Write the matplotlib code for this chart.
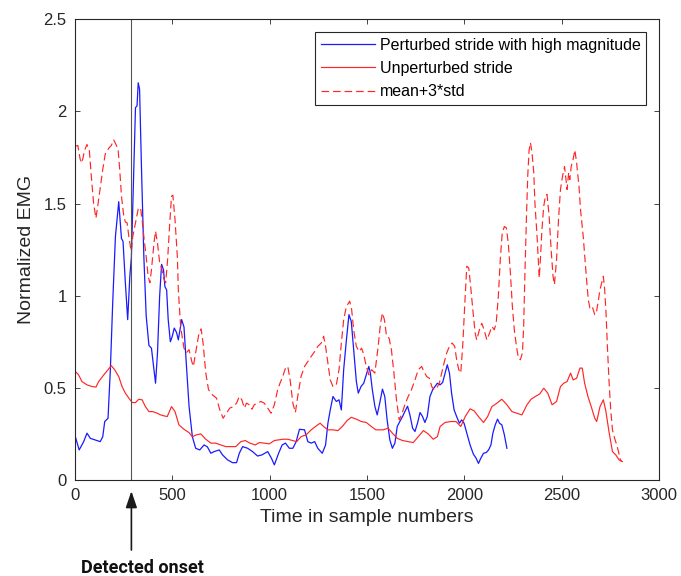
import numpy as np
import matplotlib
matplotlib.use("Agg")
import matplotlib.pyplot as plt

# (sample, normalized EMG)
perturbed = [
    (2, 0.235), (22, 0.163), (45, 0.208), (62, 0.254), (79, 0.226), (105, 0.217), (130, 0.208), (143, 0.235),
    (153, 0.317), (170, 0.335), (182, 0.598), (194, 0.96), (208, 1.32), (225, 1.51), (239, 1.31), (247, 1.295),
    (259, 1.07), (271, 0.87), (282, 1.105), (290, 1.21), (302, 1.68), (311, 2.02), (319, 2.03), (325, 2.155),
    (332, 2.12), (342, 1.685), (354, 1.21), (366, 0.89), (380, 0.73), (393, 0.715), (402, 0.634), (414, 0.525),
    (424, 0.69), (435, 0.996), (445, 1.17), (455, 1.14), (462, 1.05), (471, 1.03), (479, 0.87), (490, 0.75),
    (500, 0.78), (510, 0.824), (522, 0.80), (531, 0.76), (548, 0.87), (560, 0.83), (572, 0.634), (586, 0.40),
    (603, 0.235), (620, 0.172), (641, 0.163), (663, 0.19), (680, 0.18), (698, 0.145), (715, 0.154), (741, 0.163),
    (758, 0.136), (784, 0.109), (809, 0.094), (830, 0.094), (844, 0.145), (861, 0.181), (887, 0.172), (912, 0.154),
    (938, 0.13), (960, 0.136), (990, 0.154), (1009, 0.118), (1024, 0.082), (1046, 0.145), (1064, 0.19), (1081, 0.2),
    (1101, 0.172), (1119, 0.172), (1136, 0.208), (1153, 0.275), (1179, 0.272), (1196, 0.208), (1213, 0.2),
    (1231, 0.208), (1247, 0.172), (1270, 0.145), (1287, 0.19), (1299, 0.308), (1311, 0.38), (1325, 0.453),
    (1342, 0.426), (1356, 0.435), (1368, 0.38), (1380, 0.6), (1394, 0.76), (1407, 0.897), (1419, 0.86),
    (1431, 0.707), (1445, 0.535), (1455, 0.471), (1469, 0.507), (1483, 0.525), (1493, 0.56), (1509, 0.616),
    (1517, 0.58), (1527, 0.49), (1540, 0.40), (1552, 0.353), (1565, 0.417), (1579, 0.493), (1591, 0.453),
    (1603, 0.326), (1617, 0.217), (1630, 0.172), (1643, 0.2), (1655, 0.29), (1668, 0.317), (1682, 0.344),
    (1694, 0.371), (1708, 0.40), (1720, 0.353), (1734, 0.281), (1746, 0.263), (1759, 0.308), (1772, 0.366),
    (1785, 0.344), (1797, 0.312), (1809, 0.344), (1823, 0.453), (1837, 0.49), (1849, 0.507), (1861, 0.525),
    (1875, 0.516), (1888, 0.529), (1901, 0.58), (1912, 0.625), (1923, 0.58), (1934, 0.471), (1947, 0.38),
    (1960, 0.344), (1974, 0.308), (1986, 0.326), (1998, 0.308), (2012, 0.254), (2029, 0.19), (2046, 0.14),
    (2060, 0.118), (2072, 0.09), (2084, 0.118), (2098, 0.145), (2112, 0.149), (2124, 0.163), (2136, 0.19),
    (2146, 0.254), (2158, 0.299), (2170, 0.33), (2180, 0.308), (2192, 0.299), (2205, 0.245), (2218, 0.172),
]

unperturbed = [
    (2, 0.589), (19, 0.57), (36, 0.534), (62, 0.516), (88, 0.507), (108, 0.504), (122, 0.534), (148, 0.57),
    (170, 0.598), (187, 0.62), (204, 0.598), (225, 0.561), (242, 0.507), (259, 0.471), (277, 0.444), (294, 0.42),
    (311, 0.42), (328, 0.438), (345, 0.435), (362, 0.398), (380, 0.371), (400, 0.371), (423, 0.362), (440, 0.353),
    (457, 0.348), (474, 0.344), (496, 0.398), (514, 0.371), (534, 0.299), (560, 0.275), (586, 0.257), (603, 0.235),
    (624, 0.245), (646, 0.25), (672, 0.221), (698, 0.2), (723, 0.2), (749, 0.19), (775, 0.181), (801, 0.181),
    (826, 0.181), (852, 0.208), (875, 0.214), (898, 0.2), (926, 0.19), (947, 0.203), (972, 0.2), (998, 0.196),
    (1024, 0.214), (1041, 0.217), (1067, 0.221), (1093, 0.221), (1119, 0.214), (1139, 0.208), (1161, 0.235),
    (1187, 0.245), (1213, 0.272), (1239, 0.293), (1259, 0.308), (1277, 0.29), (1299, 0.272), (1325, 0.272),
    (1351, 0.268), (1373, 0.29), (1397, 0.322), (1419, 0.34), (1445, 0.33), (1471, 0.317), (1496, 0.312),
    (1522, 0.29), (1545, 0.272), (1582, 0.272), (1608, 0.281), (1630, 0.254), (1655, 0.226), (1682, 0.214),
    (1711, 0.208), (1737, 0.203), (1763, 0.235), (1789, 0.268), (1814, 0.25), (1840, 0.221), (1861, 0.235),
    (1875, 0.29), (1900, 0.312), (1929, 0.317), (1957, 0.317), (1981, 0.29), (2004, 0.344), (2029, 0.386),
    (2050, 0.375), (2072, 0.344), (2098, 0.312), (2119, 0.344), (2141, 0.398), (2167, 0.417), (2192, 0.438),
    (2218, 0.408), (2244, 0.371), (2270, 0.362), (2295, 0.353), (2321, 0.408), (2342, 0.438), (2364, 0.453),
    (2387, 0.467), (2407, 0.498), (2428, 0.471), (2450, 0.408), (2473, 0.426), (2493, 0.507), (2510, 0.525),
    (2527, 0.534), (2545, 0.58), (2558, 0.543), (2576, 0.552), (2593, 0.607), (2605, 0.607), (2617, 0.525),
    (2634, 0.453), (2651, 0.398), (2669, 0.335), (2679, 0.317), (2696, 0.398), (2713, 0.435), (2725, 0.38),
    (2742, 0.263), (2760, 0.154), (2777, 0.136), (2794, 0.109), (2811, 0.1),
]

threshold = [
    (2, 1.81), (15, 1.815), (27, 1.74), (36, 1.72), (50, 1.79), (62, 1.82), (74, 1.79), (84, 1.65), (96, 1.50),
    (108, 1.42), (119, 1.50), (130, 1.585), (143, 1.685), (156, 1.77), (174, 1.80), (187, 1.815), (199, 1.845),
    (211, 1.82), (222, 1.79), (230, 1.685), (239, 1.54), (251, 1.43), (259, 1.40), (268, 1.395), (277, 1.32),
    (289, 1.24), (297, 1.32), (311, 1.395), (325, 1.47), (337, 1.477), (345, 1.413), (354, 1.32), (366, 1.21),
    (376, 1.105), (385, 1.07), (393, 1.14), (406, 1.286), (414, 1.35), (424, 1.286), (435, 1.18), (445, 1.15),
    (455, 1.096), (466, 1.07), (476, 1.196), (486, 1.377), (496, 1.54), (503, 1.545), (514, 1.413), (526, 1.21),
    (531, 1.03), (543, 0.83), (560, 0.715), (572, 0.69), (586, 0.707), (600, 0.643), (608, 0.616), (620, 0.69),
    (637, 0.797), (648, 0.82), (658, 0.743), (672, 0.58), (686, 0.49), (706, 0.462), (727, 0.444), (744, 0.38),
    (761, 0.335), (778, 0.362), (795, 0.39), (813, 0.398), (830, 0.417), (844, 0.453), (857, 0.435), (870, 0.39),
    (881, 0.417), (895, 0.408), (909, 0.384), (921, 0.408), (938, 0.417), (955, 0.426), (972, 0.417), (990, 0.39),
    (1007, 0.362), (1024, 0.408), (1041, 0.49), (1053, 0.525), (1067, 0.561), (1081, 0.607), (1093, 0.616),
    (1105, 0.543), (1119, 0.417), (1132, 0.366), (1144, 0.453), (1161, 0.561), (1179, 0.616), (1196, 0.643),
    (1213, 0.67), (1231, 0.697), (1247, 0.725), (1265, 0.743), (1277, 0.78), (1287, 0.725), (1299, 0.634),
    (1311, 0.543), (1325, 0.507), (1342, 0.516), (1356, 0.598), (1368, 0.743), (1380, 0.87), (1394, 0.942),
    (1411, 0.97), (1421, 0.924), (1431, 0.815), (1445, 0.725), (1459, 0.697), (1472, 0.715), (1483, 0.68),
    (1496, 0.616), (1510, 0.57), (1524, 0.598), (1540, 0.58), (1557, 0.725), (1569, 0.85), (1579, 0.906),
    (1589, 0.87), (1600, 0.78), (1613, 0.77), (1625, 0.707), (1638, 0.58), (1651, 0.435), (1665, 0.326),
    (1677, 0.353), (1694, 0.408), (1711, 0.453), (1728, 0.49), (1746, 0.543), (1763, 0.598), (1780, 0.616),
    (1792, 0.589), (1806, 0.561), (1820, 0.552), (1832, 0.507), (1844, 0.49), (1857, 0.498), (1871, 0.525),
    (1883, 0.58), (1895, 0.634), (1909, 0.69), (1923, 0.725), (1937, 0.743), (1950, 0.725), (1960, 0.652),
    (1971, 0.598), (1981, 0.58), (1991, 0.725), (2002, 0.96), (2012, 1.16), (2022, 1.15), (2032, 1.05),
    (2043, 0.924), (2055, 0.797), (2063, 0.76), (2077, 0.815), (2089, 0.85), (2101, 0.815), (2115, 0.76),
    (2129, 0.797), (2141, 0.833), (2153, 0.815), (2163, 0.85), (2174, 0.996), (2184, 1.196), (2194, 1.34),
    (2205, 1.375), (2215, 1.368), (2225, 1.286), (2236, 1.123), (2246, 0.942), (2256, 0.815), (2267, 0.725),
    (2277, 0.661), (2287, 0.652), (2298, 0.69), (2304, 0.833), (2311, 1.14), (2318, 1.413), (2325, 1.65),
    (2332, 1.79), (2339, 1.83), (2347, 1.775), (2356, 1.667), (2362, 1.50), (2373, 1.32), (2384, 1.096),
    (2390, 1.196), (2398, 1.36), (2407, 1.485), (2416, 1.54), (2424, 1.55), (2435, 1.43), (2445, 1.25),
    (2455, 1.105), (2462, 1.06), (2473, 1.196), (2483, 1.413), (2493, 1.576), (2504, 1.65), (2514, 1.70),
    (2527, 1.576), (2535, 1.667), (2541, 1.63), (2548, 1.70), (2558, 1.74), (2567, 1.79), (2576, 1.72),
    (2588, 1.594), (2596, 1.467), (2610, 1.32), (2619, 1.196), (2627, 1.087), (2636, 0.978), (2644, 0.933),
    (2656, 0.942), (2669, 0.897), (2677, 0.906), (2687, 0.97), (2696, 1.033), (2705, 1.07), (2713, 1.105),
    (2720, 1.033), (2727, 0.906), (2734, 0.725), (2742, 0.543), (2751, 0.38), (2760, 0.272), (2771, 0.226),
    (2782, 0.19), (2791, 0.154), (2798, 0.118), (2806, 0.1),
]

onset = 290
labels = ["Perturbed stride with high magnitude", "Unperturbed stride", "mean+3*std"]
xticks = [0, 500, 1000, 1500, 2000, 2500, 3000]
yticks = [0, 0.5, 1, 1.5, 2, 2.5]
yticklabels = ["0", "0.5", "1", "1.5", "2", "2.5"]

plt.rcParams['font.family'] = ['Liberation Sans', 'DejaVu Sans']
plt.rcParams['lines.scale_dashes'] = False
axcol = '#262626'

fig = plt.figure(figsize=(6.81, 5.76), dpi=100)
ax = fig.add_axes([0.110, 0.1667, 0.858, 0.800])

p = np.array(perturbed)
u = np.array(unperturbed)
t = np.array(threshold)
ax.plot(p[:, 0], p[:, 1], color='#1a1aff', lw=0.9, label=labels[0])
ax.plot(u[:, 0], u[:, 1], color='#ff2626', lw=0.85, label=labels[1])
ax.plot(t[:, 0], t[:, 1], color='#ff2626', lw=0.85, dashes=(5.5, 2.8), label=labels[2])
ax.axvline(onset, color='#555555', lw=0.8)

ax.set_xlim(0, 3000)
ax.set_ylim(0, 2.5)
ax.set_xticks(xticks)
ax.set_yticks(yticks)
ax.set_yticklabels(yticklabels)
ax.tick_params(direction='in', top=True, right=True, length=3.5, width=0.6,
               colors=axcol, labelsize=12, pad=6)
for s in ax.spines.values():
    s.set_color(axcol)
    s.set_linewidth(0.8)

ax.set_xlabel("Time in sample numbers", fontsize=14, color=axcol, labelpad=4)
ax.set_ylabel("Normalized EMG", fontsize=14, color=axcol, labelpad=6)

leg = ax.legend(loc='upper right', fontsize=11.5, fancybox=False, framealpha=1,
                edgecolor=axcol, handlelength=3.4, handletextpad=0.3,
                labelspacing=0.52, borderaxespad=0.8, borderpad=0.35)
leg.get_frame().set_linewidth(0.8)

ax.annotate('', xy=(onset, -0.06), xytext=(onset, -0.38), xycoords='data',
            annotation_clip=False,
            arrowprops=dict(arrowstyle='-|>,head_length=0.5,head_width=0.17',
                            mutation_scale=20, color='#1a1a1a', lw=1.2,
                            shrinkA=0, shrinkB=0))
fig.text(0.2085, 0.014, "Detected onset", fontsize=13, fontweight='bold',
         family=['Roboto', 'DejaVu Sans'], ha='center', va='center', color='#111111')

fig.savefig("out.png", dpi=100)
